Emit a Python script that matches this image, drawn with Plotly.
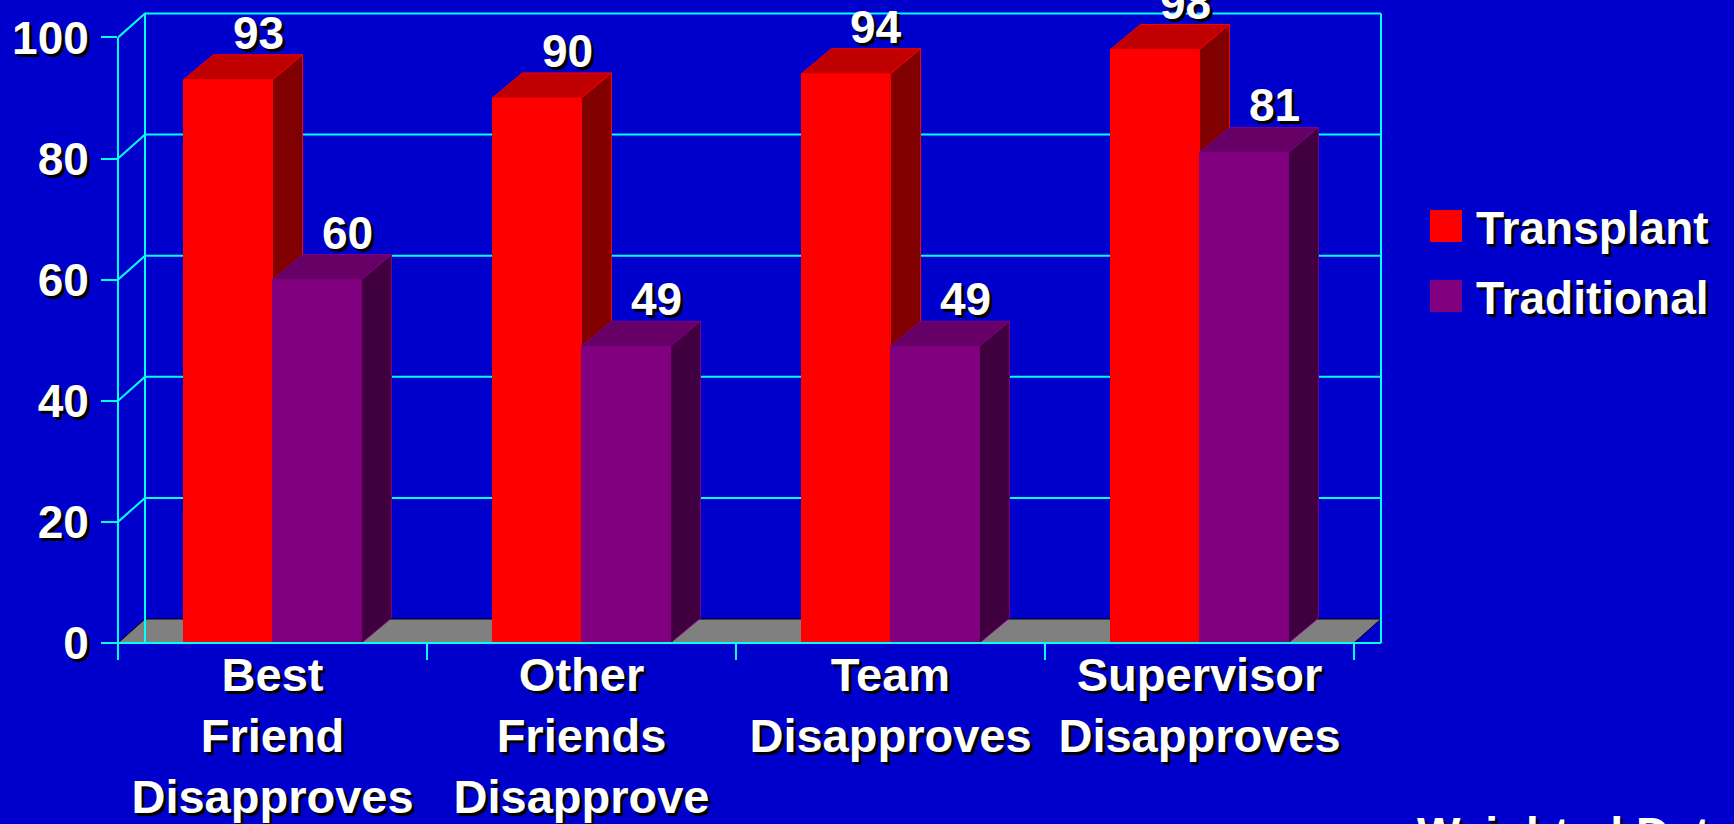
import plotly.graph_objects as go

# ---------------- data ----------------
categories = ["Best<br>Friend<br>Disapproves", "Other<br>Friends<br>Disapprove",
              "Team<br>Disapproves", "Supervisor<br>Disapproves"]
series_names = ["Transplant", "Traditional"]
transplant = [93, 90, 94, 98]
traditional = [60, 49, 49, 81]
y_ticks = [0, 20, 40, 60, 80, 100]
footnote = "Weighted Data"

# ---------------- styles ----------------
BG = "#0000CC"
CYAN = "#00FFFF"
FLOOR = "#808080"
front_colors = ["#FF0000", "#800080"]
top_colors = ["#C00000", "#660066"]
side_colors = ["#800000", "#400040"]
FONT_FAMILY = "Arial, Liberation Sans, sans-serif"
SHADOW = "3px 3px 0px #000000"
FS = 46

# ---------------- geometry (pixels) ----------------
W_PX, H_PX = 1734, 824
L, T, PLOT_BOTTOM, R_EDGE = 118, 4, 643, 1400
PW, PH = R_EDGE - L, PLOT_BOTTOM - T
PX_PER_CAT = 309.0
PX_PER_UNIT = 6.056
BAR_W = 0.288
BAR_DX = 30 / PX_PER_CAT
BAR_DY = 25 / PX_PER_UNIT
WALL_DX = 27 / PX_PER_CAT
WALL_DY = 24 / PX_PER_UNIT
N = len(categories)
Y_MAX = y_ticks[-1]


def paper_x(px):
    return (px - L) / PW


def paper_y(py):
    return (PLOT_BOTTOM - py) / PH


def y_to_px(v):
    return PLOT_BOTTOM - v * PX_PER_UNIT


def x_to_px(u):
    return L + u * PX_PER_CAT


fig = go.Figure()


def line_trace(xs, ys, color, width=2):
    fig.add_trace(go.Scatter(x=xs, y=ys, mode="lines", line=dict(color=color, width=width),
                             hoverinfo="skip", showlegend=False))


def poly_trace(xs, ys, fill, edge):
    fig.add_trace(go.Scatter(x=xs, y=ys, mode="lines", fill="toself", fillcolor=fill,
                             line=dict(color=edge, width=1), hoverinfo="skip", showlegend=False))


# back wall gridlines (with diagonal from front axis)
for v in y_ticks[1:]:
    line_trace([0, WALL_DX, N + WALL_DX], [v, v + WALL_DY, v + WALL_DY], CYAN)

# floor
poly_trace([0, N, N + WALL_DX, WALL_DX, 0], [0, 0, WALL_DY, WALL_DY, 0], FLOOR, "#000000")

# wall verticals
line_trace([WALL_DX, WALL_DX], [0, Y_MAX + WALL_DY], CYAN)
line_trace([N + WALL_DX, N + WALL_DX], [0, Y_MAX + WALL_DY], CYAN)

# bars (3D boxes)
series_values = [transplant, traditional]
for s, vals in enumerate(series_values):
    fx, fy, tx, ty, sx, sy = [], [], [], [], [], []
    for i, v in enumerate(vals):
        x0 = i + 0.5 - BAR_W + s * BAR_W
        x1 = x0 + BAR_W
        fx += [x0, x1, x1, x0, x0, None]
        fy += [0, 0, v, v, 0, None]
        tx += [x0, x1, x1 + BAR_DX, x0 + BAR_DX, x0, None]
        ty += [v, v, v + BAR_DY, v + BAR_DY, v, None]
        sx += [x1, x1 + BAR_DX, x1 + BAR_DX, x1, x1, None]
        sy += [0, BAR_DY, v + BAR_DY, v, 0, None]
    poly_trace(fx, fy, front_colors[s], front_colors[s])
    poly_trace(tx, ty, top_colors[s], front_colors[s])
    poly_trace(sx, sy, side_colors[s], front_colors[s])

text_font = dict(family=FONT_FAMILY, size=FS, color="white", weight="bold", shadow=SHADOW)
cat_font = dict(text_font, size=47)

annotations = []
for s, vals in enumerate(series_values):
    for i, v in enumerate(vals):
        xc = i + 0.5 - BAR_W / 2 + s * BAR_W + BAR_DX
        annotations.append(dict(x=xc, y=v + BAR_DY, xref="x", yref="y", text=str(v),
                                showarrow=False, yanchor="bottom", yshift=-6, font=text_font))

# legend (manual, big squares)
LEG_X, LEG_Y0, LEG_STEP, LEG_SQ = 1430, 210, 70, 32
shapes = []
for s, name in enumerate(series_names):
    top = LEG_Y0 + s * LEG_STEP
    shapes.append(dict(type="rect", xref="paper", yref="paper",
                       x0=paper_x(LEG_X), x1=paper_x(LEG_X + LEG_SQ),
                       y0=paper_y(top + LEG_SQ), y1=paper_y(top),
                       fillcolor=front_colors[s], line=dict(width=0)))
    annotations.append(dict(x=paper_x(LEG_X + LEG_SQ + 12), y=paper_y(top + LEG_SQ / 2 + 2),
                            xref="paper", yref="paper", text=name, showarrow=False,
                            xanchor="left", yanchor="middle", font=text_font))

# front axis line and floor front line (extend outside plot area)
shapes.append(dict(type="line", xref="paper", yref="paper", x0=0, x1=0,
                   y0=paper_y(PLOT_BOTTOM + 16), y1=paper_y(y_to_px(Y_MAX)),
                   line=dict(color=CYAN, width=2)))
shapes.append(dict(type="line", xref="paper", yref="paper", x0=paper_x(L - 16),
                   x1=paper_x(x_to_px(N + WALL_DX)), y0=0, y1=0,
                   line=dict(color=CYAN, width=2)))

annotations.append(dict(x=paper_x(1415), y=paper_y(806), xref="paper", yref="paper",
                        text=footnote, showarrow=False, xanchor="left", yanchor="top",
                        font=text_font))

fig.update_layout(
    width=W_PX, height=H_PX,
    paper_bgcolor=BG, plot_bgcolor=BG,
    margin=dict(l=L, r=W_PX - R_EDGE, t=T, b=H_PX - PLOT_BOTTOM, pad=0),
    showlegend=False,
    shapes=shapes,
    annotations=annotations,
    xaxis=dict(range=[0, PW / PX_PER_CAT], showgrid=False, zeroline=False, showline=False,
               tickmode="array", tickvals=[i + 0.5 for i in range(N)], ticktext=categories,
               ticks="", tickfont=cat_font, automargin=False, fixedrange=True,
               minor=dict(tickmode="array", tickvals=list(range(N + 1)), ticks="outside",
                          ticklen=16, tickwidth=2, tickcolor=CYAN)),
    yaxis=dict(range=[0, PH / PX_PER_UNIT], showgrid=False, zeroline=False, showline=False,
               tickmode="array", tickvals=y_ticks, ticks="outside", ticklen=16, tickwidth=2,
               tickcolor=CYAN, tickfont=text_font, automargin=False, fixedrange=True,
               ticklabelstandoff=3),
)

fig.write_html("out.html", config={"displayModeBar": False},
               post_script="document.body.style.margin='0';document.body.style.background='%s';" % BG)
